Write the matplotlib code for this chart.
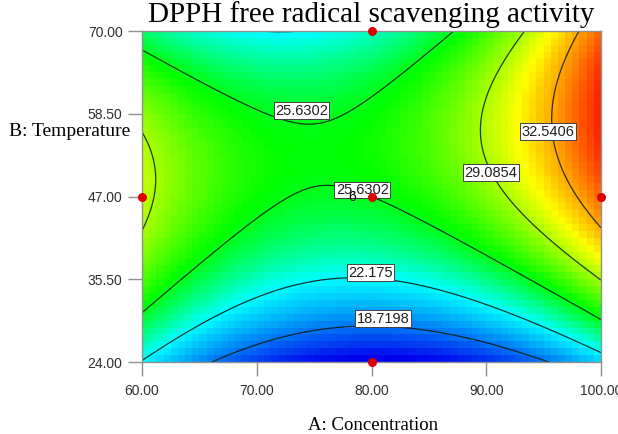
import numpy as np
import matplotlib
matplotlib.use("Agg")
import matplotlib.pyplot as plt
from matplotlib.colors import LinearSegmentedColormap

# Quadratic response-surface model in coded units
# a = (A - 80) / 20, b = (B - 47) / 23
coef_terms = ["Intercept", "A", "B", "AB", "A^2", "B^2"]
coef_values = [25.63, 2.2, 3.84, 2.67, 6.17, -6.38]

conc_range = [60.0, 100.0]
temp_range = [24.0, 70.0]
conc_ticks = [60.0, 70.0, 80.0, 90.0, 100.0]
temp_ticks = [24.0, 35.5, 47.0, 58.5, 70.0]

contour_levels = [18.7198, 22.175, 25.6302, 29.0854, 32.5406]

# Design points (concentration, temperature)
design_conc = [60.0, 80.0, 100.0, 80.0, 80.0]
design_temp = [47.0, 47.0, 47.0, 70.0, 24.0]
center_replicates = 6

# Where each contour label box sits (concentration, temperature, level index)
label_spots = [(73.9, 58.9, 2), (95.4, 56.0, 4), (90.4, 50.3, 3),
               (79.2, 47.9, 2), (79.9, 36.4, 1), (81.0, 30.0, 0)]


def response(A, B):
    a = (A - 80.0) / 20.0
    b = (B - 47.0) / 23.0
    c = dict(zip(coef_terms, coef_values))
    return (c["Intercept"] + c["A"] * a + c["B"] * b + c["AB"] * a * b
            + c["A^2"] * a ** 2 + c["B^2"] * b ** 2)


cmap = LinearSegmentedColormap.from_list(
    "de",
    [(0.00, (0.0, 0.0, 0.93)),
     (0.33, (0.0, 1.0, 1.0)),
     (0.52, (0.0, 1.0, 0.0)),
     (0.76, (1.0, 1.0, 0.0)),
     (1.00, (1.0, 0.15, 0.0))])

fig = plt.figure(figsize=(6.18, 4.34), dpi=100)
ax = fig.add_axes([142 / 618, 1 - 362 / 434, 459 / 618, 331 / 434])

# Coarse cells for the colour map
nx, ny = 64, 48
xe = np.linspace(*conc_range, nx + 1)
ye = np.linspace(*temp_range, ny + 1)
xc = 0.5 * (xe[:-1] + xe[1:])
yc = 0.5 * (ye[:-1] + ye[1:])
XC, YC = np.meshgrid(xc, yc)
Zc = response(XC, YC)
ax.pcolormesh(xe, ye, Zc, cmap=cmap, vmin=Zc.min(), vmax=Zc.max(),
              shading="flat", zorder=1)

# Fine grid for the contour lines
xf = np.linspace(*conc_range, 300)
yf = np.linspace(*temp_range, 300)
XF, YF = np.meshgrid(xf, yf)
ZF = response(XF, YF)
ax.contour(XF, YF, ZF, levels=contour_levels, colors="#0c1a0c",
           linewidths=0.9, alpha=0.85, zorder=2)

for x, y, k in label_spots:
    val = contour_levels[k]
    txt = f"{val:.4f}".rstrip("0").rstrip(".")
    ax.text(x, y, txt, ha="center", va="center", fontsize=10.5,
            family="Liberation Sans", color="#202020", zorder=3,
            bbox=dict(boxstyle="square,pad=0.1", fc="white", ec="#404040",
                      lw=0.7))

ax.text(78.3, 47.0, str(center_replicates), ha="center", va="center",
        fontsize=10, family="Liberation Sans", color="black", zorder=4)
ax.scatter(design_conc, design_temp, s=42, color="#dd0000", zorder=5,
           clip_on=False, linewidths=0)

ax.set_xlim(*conc_range)
ax.set_ylim(*temp_range)
ax.set_xticks(conc_ticks)
ax.set_yticks(temp_ticks)
ax.set_xticklabels([f"{v:.2f}" for v in conc_ticks])
ax.set_yticklabels([f"{v:.2f}" for v in temp_ticks])
ax.tick_params(direction="out", length=10, width=1, color="#909090",
               labelsize=10, labelcolor="#303030")
for lbl in ax.get_xticklabels() + ax.get_yticklabels():
    lbl.set_family("Liberation Sans")
ax.tick_params(axis="x", pad=6)
ax.tick_params(axis="y", pad=4)
for side in ax.spines.values():
    side.set_color("#909090")
    side.set_linewidth(1.0)

fig.text(371 / 618, 1 - 15 / 434, "DPPH free radical scavenging activity",
         ha="center", va="center", fontsize=21, family="Liberation Serif")
fig.text(130 / 618, 1 - 131 / 434, "B: Temperature", ha="right",
         va="center", fontsize=14, family="Liberation Serif")
fig.text(373 / 618, 1 - 425 / 434, "A: Concentration", ha="center",
         va="center", fontsize=13.5, family="Liberation Serif")

fig.savefig("out.png", dpi=100)
